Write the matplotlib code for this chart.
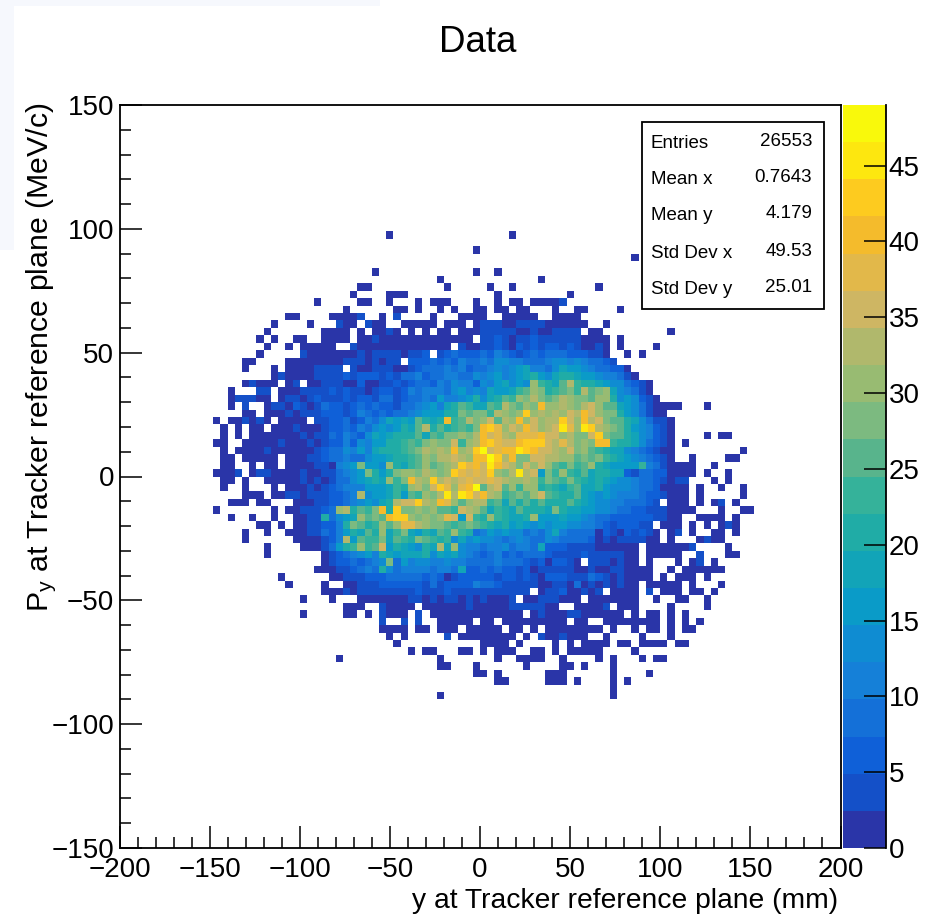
import numpy as np
import matplotlib
matplotlib.use("Agg")
import matplotlib.pyplot as plt
from matplotlib.colors import ListedColormap, BoundaryNorm

plt.rcParams['font.family'] = ['Liberation Sans', 'DejaVu Sans']
plt.rcParams['mathtext.default'] = 'regular'

W, H = 935, 919

# one row per Py bin, top row first, y bin low edges from 96 going down in steps of 3
# blocks of ten x bins, first block starts at y = -160 mm
# '.' is an empty bin, 0-9 then a-j is the colour band read off the picture
top_row_edge = 96
first_x_edge = -160
hist_rows = [
".......... .......... .......0.. .......... ....0..... .......... .......... ..........",
".......... .......... .......... .......... .......... .......... .......... ..........",
".......... .......... .......... .........0 .......... .......... .......... ..........",
".......... .......... .......... .......... .......... .......... .0........ ..........",
".......... .......... .......... .......... .......... .......... .......... ..........",
".......... .......... .....0.... .........0 ..0....... .......... .......... ..........",
".......... .......... .......... ....0..... ........0. .......... .......... ..........",
".......... .......... ...00..... .....0.... .0..0..... ......0... .......... ..........",
".......... .......... ..0....000 .......... ..0....... ..0....... .......... ..........",
".......... .......0.. ...00..0.. .0.000...0 ..0.00.000 01........ .......... ..........",
".......... .......... .0......00 .0..0.0..0 0.00.00... 0..00....0 .......... ..........",
".......... ...00....0 0001..0.1. ...0...000 0..00000.. 0000...... .......... ..........",
".......... .0....0... 100.100..0 0000.000.0 1110011110 00000..0.. .......... ..........",
".......... 0.......00 00.0.0010. 0.0.00.000 1111100100 1111.00... ......0... ..........",
".........0 .0..00..00 00.0010000 000000000. 1121011211 11110000.0 .......... ..........",
".......... 0..0.00000 ..10000000 000000.100 1121021212 21210010.0 ....0..... ..........",
".........0 .....10000 0001011110 112.123222 3243212323 33222110.. 0.0....... ..........",
".......00. ...0000000 011101011. 2223232433 4355443334 554543321. .......... ..........",
".......0.. .0.0000111 1.10011100 1233343423 3454567443 5766543322 0......... ..........",
".......... .010000111 1212221213 3423344335 4564567865 7887665443 10........ ..........",
".......010 00.01.0011 1002001121 2332435442 5467565c98 7ad9887655 3210...... ..........",
".....0...1 1.00011112 1211012212 4344435645 476679acb8 9ab9dabc75 4310...... ..........",
".....01110 0.01101211 1212213312 3343644568 578a9cbdba bdcbbacc85 65210..... ..........",
".....0.1.. 0110210132 2123232213 3456478a97 7a9dbacbgc cdcbdecaa7 65310000.. .0........",
".......00. 0001011122 2124323233 4566688bab b9dcbchcdc dcedgecbb8 653100.... ..........",
"...0.00101 0.0000.112 2312435767 6a878g9adb ceadcgcecd dhecgdebaa 8753110... ..........",
"....0.0.00 .000100012 2324356568 7ad8a89a9b ghfcedgecd eifcihdcba 8654210... ..........",
"....0.0.00 0000010113 2432576788 8a7a9bbcbd gefdcfffge ecdbbehbaa 8754210... .0.00.....",
"...00..000 0010001012 2425466889 a9bcbbe9cd ghfeeghhhe dfdbcbgg98 8753210.0. ..........",
"....0.0000 1000000123 3546478889 abdcdcgcdh jefggihgee dcebca9877 5432100... ......0...",
"....00.000 00.0001123 3433566788 9acbddedcg gjhdgbbeed dccabab987 6543210..0 ....00....",
"....00..0. 00.0000110 456b665c87 9acabcdhfg eigedbecec a9b9ac8766 6694310000 ..0.......",
"...0001.01 1000010011 3456b868bc cbdcbchfef ehcbdide6b 9c98a78877 2133220000 .0..0.....",
"....00.0.. 0000010101 3356787c9b gdchdedefe efedccdc9b a9b9878765 543321011. ..0.0.....",
"....0..0.. .0.0001012 3444666798 cdbehfcfgj adeac9cc89 879a778655 543320000. 0..0..0...",
".......000 .001101112 234d566796 a9cbdidihe gdc9abacea 988a765654 443221000. 0.....0...",
".....000.0 0...000112 23456578de ehdcgfcacd d9a7a8a8a8 88a8765544 33321.000. 0.01.0....",
"...0...... .0.0011123 cd8a9bg8hb bcbcaa9edc a7987a8887 b877665543 3221110000 ...0..00..",
".....0..0. .0..001183 567cabaghh cbcbcfe6e9 8c98778c66 6766543322 22221100.. 0000.0....",
".........0 0.0.001122 48ba89cacf fdcbba9aba 9878676565 6655443212 2211.000.0 .0.010....",
".......0.. 0..0001132 4687a8c79b 7687a9c983 4656553435 7433330210 21210.01.0 ..00.0....",
".......0.. ....000012 4d6a99b7a9 8ba9895756 5543454335 4333320101 11100.0... 0100......",
".......... 0....00013 689c9ae687 6587d7c544 3445344372 2211110000 00.0000001 ....0.....",
".......... 0.......01 2345648767 7785767543 2342323332 1111211111 00.00000.. 1...00....",
".......... ........01 2232345b36 4554454433 3343332120 2210.11101 00.0...0.0 1.0.......",
".......... .......000 1123438534 4443443722 3232212011 1110010011 0000..0.00 0000......",
".......... ..0......0 0111222333 3323201222 2212212102 2211132101 0000.0.000 .0........",
".......... ...0....0. .001112222 2213122224 3321111100 1103010101 00.00000.0 ...0......",
".......... ........00 0101111111 1211121111 1111111.01 1200101.00 00.1.000.0 0.0.......",
".......... .....0...0 ...0000000 1101011010 10001.0011 1000.00000 00..0..00. .0........",
".......... .......... .000..1000 0.00000010 0000111110 0..00001.0 00....0... .0........",
".......... .....0.... .00.0.1000 .1.0000000 000000.010 0011000000 .0.00.0.0. ..........",
".......... .......... ......1..1 .1..00000. 00.0000000 00.00..000 00000.0.0. 0.........",
".......... .......... ......0000 .00.000.00 000.00.0.0 0000000.0. .0.00.0.00 ..........",
".......... .......... .......0.0 .....1.000 00000.0.10 01000..0.. ..0...0... ..........",
".......... .......... ........0. .......... 0000.0.... 0.0.0000.0 0.0000.00. ..........",
".......... .......... .......... 0.00...00. 0.000..00. 0.00000... .0........ ..........",
".......... .......... 0......... ....0..... ..0..0000. .0....0.0. ..0.00.... ..........",
".......... .......... .......... ....00...0 ......0... .00.0...0. .......... ..........",
".......... .......... .......... .........0 0.0......0 00......0. ...0...... ..........",
".......... .......... .......... .......... ..00.....0 00.0....0. 0......... ..........",
".......... .......... .......... .......... .......... ........0. .......... ..........",
".......... .......... .......... ....0..... .......... ........0. .......... ..........",
]

band_chars = "0123456789abcdefghij"
band_colors = ["#2a35a8", "#1450c8", "#0f60d8", "#1470d8", "#1580d8",
               "#0f8cd2", "#0a9bc8", "#12a4b8", "#20aca6", "#35b29a",
               "#58b48c", "#7cba80", "#98bb72", "#b0b86c", "#ceb663",
               "#e2b84a", "#f4bb2c", "#fdcb1f", "#fde70f", "#f9f90b"]
z_max = 49
n_bands = 20

stats_names = ["Entries", "Mean x", "Mean y", "Std Dev x", "Std Dev y"]
stats_values = ["26553", "0.7643", "4.179", "49.53", "25.01"]
stats_y_px = [143, 180, 216, 254, 290]

bounds = np.linspace(0, z_max, n_bands + 1)
band_mid = (bounds[:-1] + bounds[1:]) / 2

# histogram grid, 100 x 100 bins
x_edges = np.linspace(-200, 200, 101)
y_edges = np.linspace(-150, 150, 101)
counts = np.full((100, 100), np.nan)
for r, row in enumerate(hist_rows):
    j = (top_row_edge + 150) // 3 - r
    cells = row.replace(" ", "")
    for c, ch in enumerate(cells):
        if ch != ".":
            counts[j, (first_x_edge + 200) // 4 + c] = band_mid[band_chars.index(ch)]

def px_axes(fig, x0, y0, x1, y1):
    return fig.add_axes([x0 / W, 1 - y1 / H, (x1 - x0) / W, (y1 - y0) / H])

fig = plt.figure(figsize=(W / 100, H / 100), dpi=100)

# faint tint left in the corner of the screenshot
fig.add_artist(plt.Rectangle((0, 1 - 250 / H), 14 / W, 250 / H, transform=fig.transFigure,
                             fc='#f6f8fd', ec='none'))
fig.add_artist(plt.Rectangle((0, 1 - 6 / H), 380 / W, 6 / H, transform=fig.transFigure,
                             fc='#f6f8fd', ec='none'))

ax = px_axes(fig, 119.5, 105, 840.5, 848)
cax = px_axes(fig, 843, 105, 886, 848)

cmap = ListedColormap(band_colors)
cmap.set_bad("white")
norm = BoundaryNorm(bounds, cmap.N)
mesh = ax.pcolormesh(x_edges, y_edges, np.ma.masked_invalid(counts), cmap=cmap, norm=norm)

ax.set_xlim(-200, 200)
ax.set_ylim(-150, 150)
ax.set_xticks(np.arange(-200, 201, 50))
ax.set_yticks(np.arange(-150, 151, 50))
ax.set_xticks(np.arange(-200, 201, 10), minor=True)
ax.set_yticks(np.arange(-150, 151, 10), minor=True)
ax.tick_params(which='major', direction='in', length=15.5, width=1.1, labelsize=20, pad=4)
ax.tick_params(which='minor', direction='in', length=8, width=1.1)
ax.tick_params(axis='x', pad=6.5)
for s in ax.spines.values():
    s.set_linewidth(1.3)

fig.text(478 / W, 1 - 42 / H, "Data", fontsize=26.5, ha='center', va='center')
fig.text(838 / W, 1 - 901 / H, "y at Tracker reference plane (mm)", fontsize=20.3,
         ha='right', va='center')
fig.text(42 / W, 1 - 103 / H, "P$_{y}$ at Tracker reference plane (MeV/c)", fontsize=21.8,
         rotation=90, ha='center', va='top')

cb = fig.colorbar(mesh, cax=cax, ticks=np.arange(0, 46, 5), spacing='proportional')
cb.outline.set_visible(False)
cax.spines['right'].set_visible(True)
cax.spines['right'].set_linewidth(1.3)
cax.minorticks_off()
cax.tick_params(direction='in', length=15.5, width=1.1, labelsize=20, pad=2)

# stats box
box = plt.Rectangle((642 / W, 1 - 309 / H), 182 / W, 187 / H, transform=fig.transFigure,
                    fc='white', ec='black', lw=1.3, zorder=5)
fig.add_artist(box)
for name, val, y_px in zip(stats_names, stats_values, stats_y_px):
    fig.text(651 / W, 1 - y_px / H, name, fontsize=13.5, ha='left', va='center', zorder=6)
    fig.text(812 / W, 1 - (y_px - 2) / H, val, fontsize=13.5, ha='right', va='center', zorder=6)

fig.savefig("out.png", dpi=100)
